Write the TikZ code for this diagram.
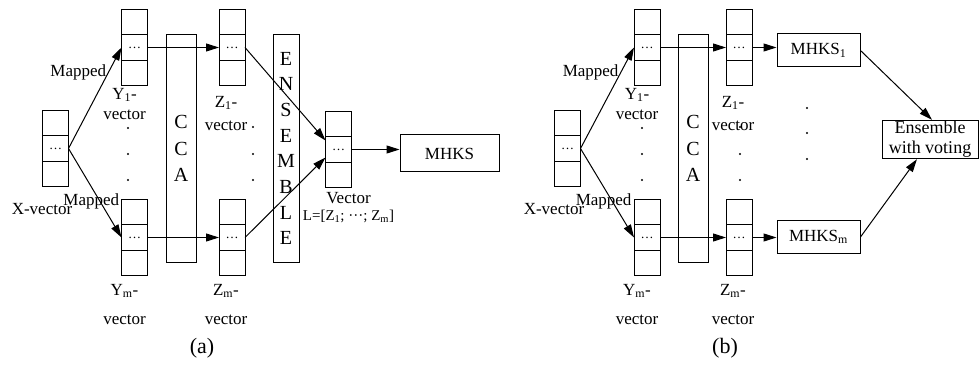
\documentclass[tikz,border=0pt]{standalone}
\usepackage{fontspec}
\setmainfont{Liberation Serif}
\usetikzlibrary{arrows.meta, positioning, calc}

\begin{document}
\begin{tikzpicture}[
  x=1pt, y=-1pt,
  font=\fontsize{17}{20}\selectfont,
  cell/.style={rectangle, draw=black, line width=1pt, minimum width=26pt, minimum height=25.5pt, inner sep=0pt, outer sep=0pt, font=\fontsize{13}{13}\selectfont},
  bar/.style={rectangle, draw=black, line width=1pt, minimum width=30pt, minimum height=227pt, inner sep=0pt, align=center},
  process/.style={rectangle, draw=black, line width=1pt, minimum width=83pt, minimum height=33pt, inner sep=2pt, align=center},
  label/.style={align=center, inner sep=0pt},
  caption/.style={font=\fontsize{22}{24}\selectfont},
  arrow/.style={line width=1pt, -{Triangle[length=13pt, width=8pt]}}
]
\useasboundingbox (0,0) rectangle (980,366);

% vector stacks: middle cell named, top and bottom cells around it
\foreach \n/\x/\y in {xa/55.5/148.5, y1a/134.5/47.5, yma/134.5/237.5, z1a/232/47.5, zma/232/237.5, va/338.5/149.5,
                      xb/567.5/148.5, y1b/647/47.5, ymb/647/237.5, z1b/739/47.5, zmb/739/237.5}{
  \node[cell] (\n) at (\x,\y) {\dots};
  \node[cell, above=0pt of \n] (\n-top) {};
  \node[cell, below=0pt of \n] (\n-bot) {};
}

% (a)
\node[bar, font=\fontsize{20}{26.5}\selectfont] (ccaa) at (181,148.5) {C\\C\\A};
\node[bar, minimum width=26pt, font=\fontsize{20}{25.7}\selectfont] (ensa) at (286,148.5) {E\\N\\S\\E\\M\\B\\L\\E};
\node[process, minimum width=99pt, minimum height=37pt] (mhksa) at (449.5,153.5) {MHKS};

\node[label, below=2pt of xa-bot, xshift=-13.5pt, yshift=-14pt] (lxa) {X-vector};
\node[label, below=2pt of y1a-bot, xshift=-10pt] (ly1a) {Y\textsubscript{1}-\\vector};
\node[label, below=8pt of yma-bot, xshift=-10pt] (lyma) {Y\textsubscript{m}-\\[9pt]vector};
\node[label, below=10pt of z1a-bot, xshift=-6pt] (lz1a) {Z\textsubscript{1}-\\[3pt]vector};
\node[label, below=8pt of zma-bot, xshift=-6pt] (lzma) {Z\textsubscript{m}-\\[9pt]vector};
\node[label, below=4pt of va-bot, xshift=10pt, font=\fontsize{17}{17}\selectfont] (lva) {Vector\\{\fontsize{15}{17}\selectfont L=[Z\textsubscript{1}; ···; Z\textsubscript{m}]}};

\draw[arrow] (xa.east) -- node[pos=0.75, xshift=-30pt] (mapa1) {Mapped} (y1a.west);
\draw[arrow] (xa.east) -- node[pos=0.6, xshift=-9pt] (mapa2) {Mapped} (yma.west);
\draw[arrow] (y1a.east) -- (z1a.west);
\draw[arrow] (yma.east) -- (zma.west);
\draw[arrow] (z1a.east) -- ([yshift=9pt]va.west);
\draw[arrow] (zma.east) -- ([yshift=-8pt]va.west);
\draw[arrow] (va.east) -- (va.east -| mhksa.west);

\node[caption] (capa) at (202,348) {(a)};

% (b)
\node[bar, font=\fontsize{20}{26.5}\selectfont] (ccab) at (693,148.5) {C\\C\\A};
\node[process] (mhks1) at (818.5,50.5) {MHKS\textsubscript{1}};
\node[process] (mhksm) at (818.5,237) {MHKS\textsubscript{m}};
\node[process, minimum width=96pt, minimum height=37pt, inner sep=1pt, font=\fontsize{18}{20}\selectfont] (ensb) at (930,139.5) {Ensemble\\with voting};

\node[label, below=2pt of xb-bot, xshift=-13.5pt, yshift=-14pt] (lxb) {X-vector};
\node[label, below=2pt of y1b-bot, xshift=-10pt] (ly1b) {Y\textsubscript{1}-\\vector};
\node[label, below=8pt of ymb-bot, xshift=-10pt] (lymb) {Y\textsubscript{m}-\\[9pt]vector};
\node[label, below=10pt of z1b-bot, xshift=-6pt] (lz1b) {Z\textsubscript{1}-\\[3pt]vector};
\node[label, below=8pt of zmb-bot, xshift=-6pt] (lzmb) {Z\textsubscript{m}-\\[9pt]vector};

\draw[arrow] (xb.east) -- node[pos=0.75, xshift=-30pt] (mapb1) {Mapped} (y1b.west);
\draw[arrow] (xb.east) -- node[pos=0.6, xshift=-9pt] (mapb2) {Mapped} (ymb.west);
\draw[arrow] (y1b.east) -- (z1b.west);
\draw[arrow] (ymb.east) -- (zmb.west);
\draw[arrow] (z1b.east) -- (z1b.east -| mhks1.west);
\draw[arrow] (zmb.east) -- (zmb.east -| mhksm.west);
\draw[arrow] (mhks1.east) -- ([xshift=2pt]ensb.north);
\draw[arrow] (mhksm.east) -- ([xshift=-13pt]ensb.south);

\node[caption] (capb) at (725,348) {(b)};

% vertical dots
\foreach \x/\y in {128/128, 128/154, 128/180, 253/127, 253/154, 253/180,
                   642/128, 642/154, 642/180, 740/127, 740/154, 740/180,
                   807/108, 807/133, 807/159}
  \fill (\x,\y) circle (1.1pt);

\end{tikzpicture}
\end{document}
